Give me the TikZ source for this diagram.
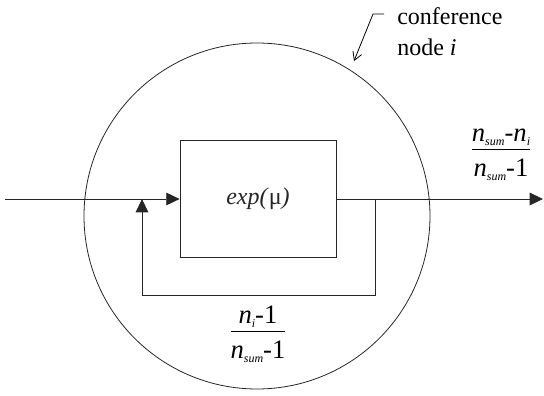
\documentclass[tikz,border=0pt]{standalone}
\usepackage{fontspec}
\setmainfont{Liberation Serif}[Ligatures=TeX]
\usepackage{tikz}
\usetikzlibrary{arrows.meta}

\newcommand{\nvar}[1]{\textit{n}\raisebox{-0.35ex}{\fontsize{9}{9}\selectfont\textit{#1}}}
\newcommand{\ratio}[2]{\begin{tabular}{@{}c@{}}#1\\[-1pt]\hline\rule{0pt}{20pt}#2\end{tabular}}

\tikzset{
  wire/.style={line width=0.6pt, black!85},
  flow/.style={wire, -{Triangle[length=10pt,width=9.5pt]}},
  leader/.style={line width=0.6pt, -{Straight Barb[length=6pt,width=7pt]}},
  txt/.style={font=\fontsize{18}{23}\selectfont, inner sep=0pt},
  fractxt/.style={font=\fontsize{20}{23}\selectfont, inner sep=0pt},
}

\begin{document}
\begin{tikzpicture}[x=0.75pt,y=-0.75pt]
  \useasboundingbox (0,0) rectangle (544,396);
  \node[draw, circle, wire, inner sep=0pt, minimum size=259.5pt] (cnode) at (257,216) {};
  \node[draw, wire, txt, minimum width=117pt, minimum height=87.75pt] (expbox) at (258,199) {\textit{exp(}μ\textit{)}};
  \coordinate (inL) at (5,199);
  \coordinate (outR) at (543,199);
  \coordinate (split) at (375,199);
  \coordinate (fbL) at (142,295);
  \coordinate (join) at (142,199);
  \draw[flow] (inL) -- (expbox.west);
  \draw[flow] (expbox.east) -- (outR);
  \draw[flow] (split) |- (fbL) -- (join);
  % fractions on the two branches
  \node[fractxt] (outlbl) at (501,153) {\ratio{\nvar{sum}-\nvar{i}}{\nvar{sum}-1}};
  \node[fractxt] (fblbl) at (258,335) {\ratio{\nvar{i}-1}{\nvar{sum}-1}};
  % label of the circle
  \node[txt, align=left, anchor=west] (conflbl) at (397,32) {conference\\node \textit{i}};
  \coordinate (tick) at (384,14);
  \coordinate (bend) at (373,14);
  \coordinate (tip) at (354,61);
  \draw[leader] (tick) -- (bend) -- (tip);
\end{tikzpicture}
\end{document}
